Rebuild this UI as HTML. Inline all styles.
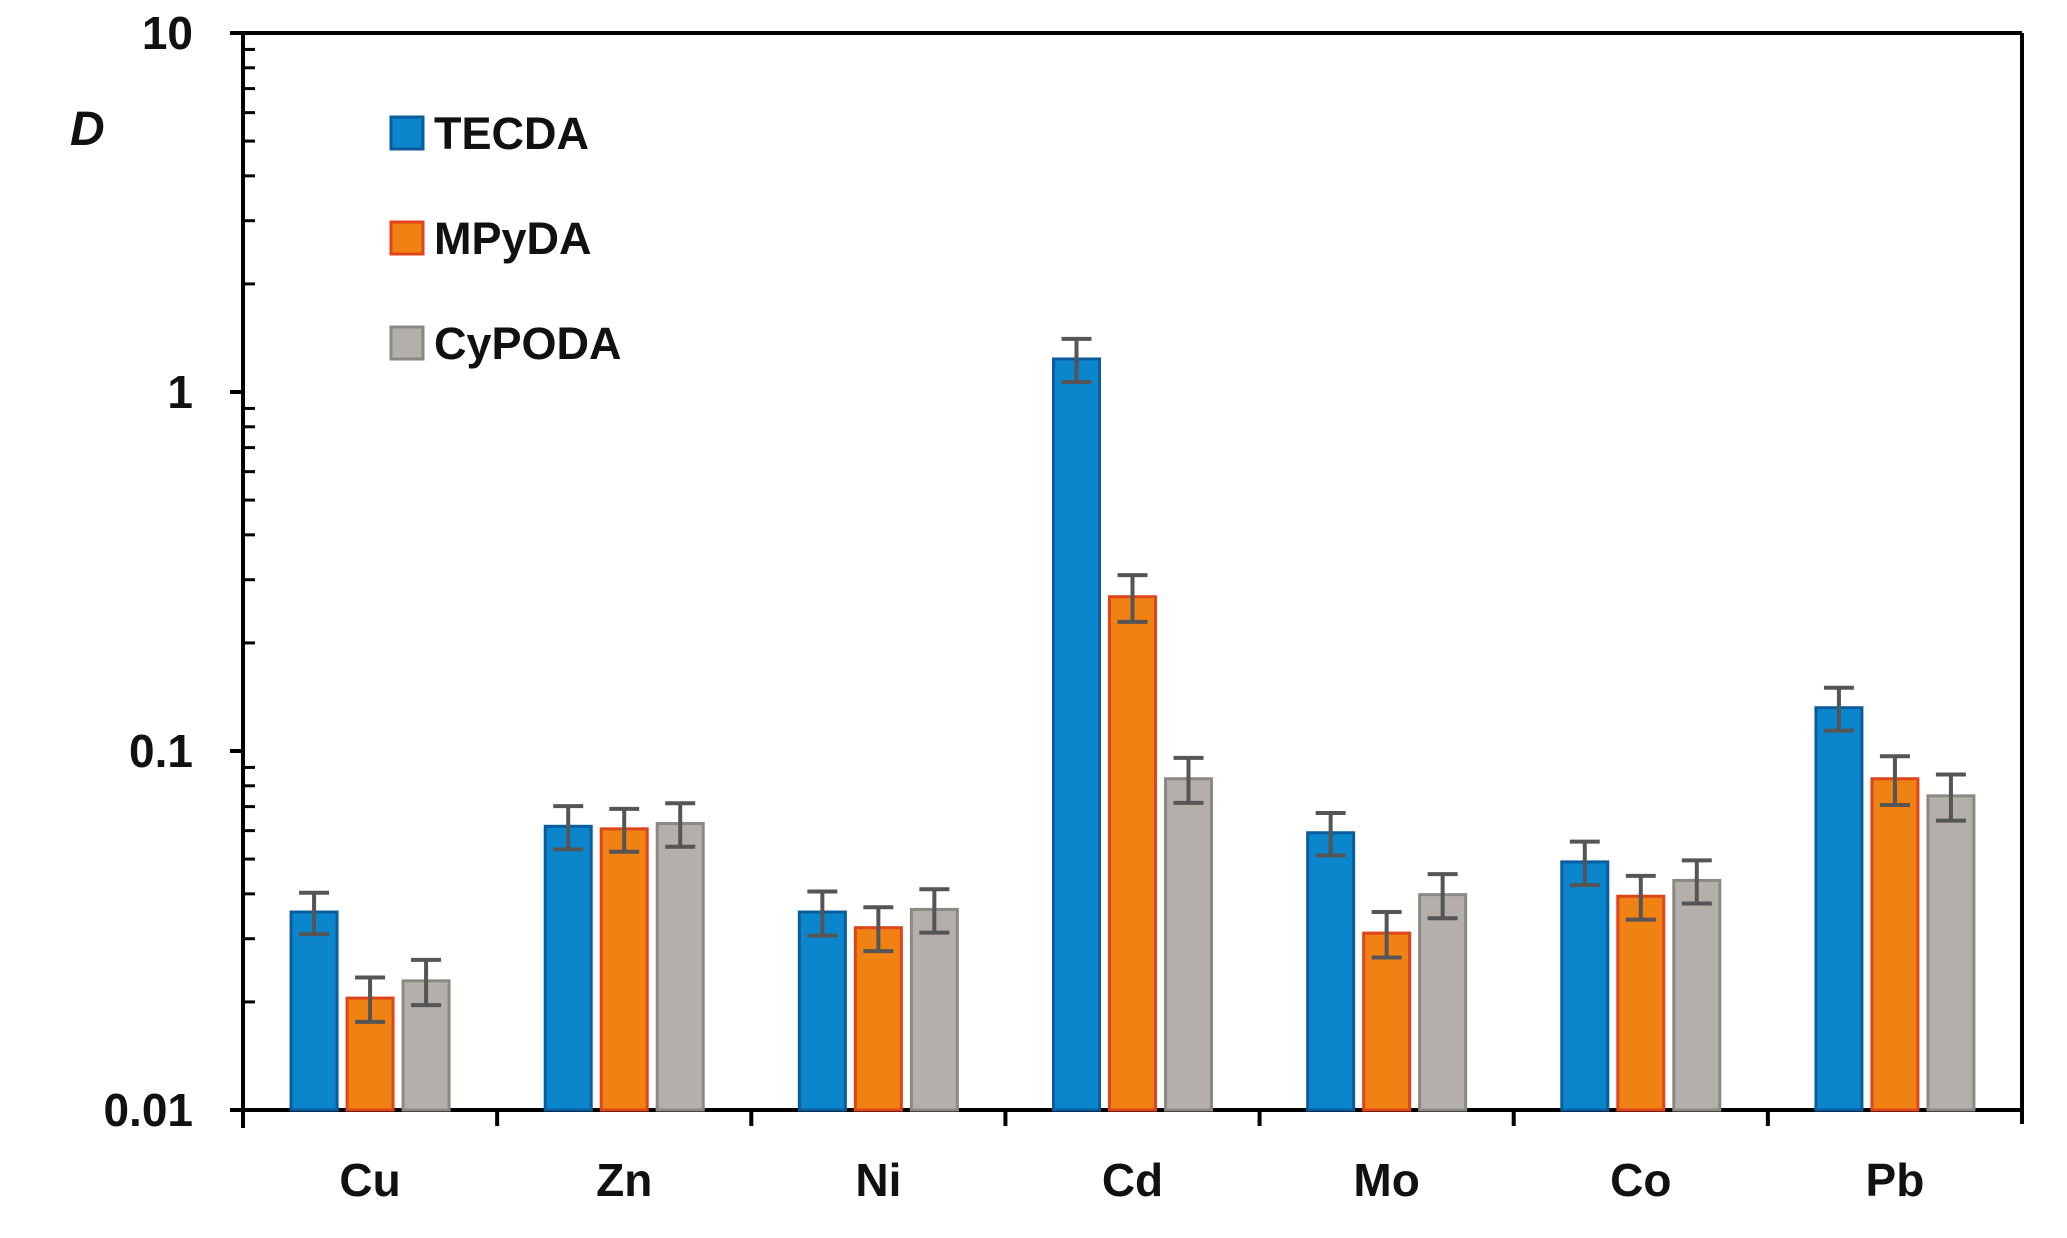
<!DOCTYPE html>
<html><head><meta charset="utf-8"><style>
html,body{margin:0;padding:0;background:#fff;}
svg{display:block;font-family:"Liberation Sans",sans-serif;}
</style></head><body>
<svg id="chart" width="2067" height="1238" viewBox="0 0 2067 1238" xmlns="http://www.w3.org/2000/svg">
<g id="axes"></g>
<g id="bars"></g>
<g id="legend"></g>
</svg>
<script>
const categories = ["Cu","Zn","Ni","Cd","Mo","Co","Pb"];
const seriesNames = ["TECDA","MPyDA","CyPODA"];
const tecda = [0.0356,0.0617,0.0356,1.236,0.0592,0.0491,0.132];
const mpyda = [0.0205,0.0607,0.0322,0.269,0.0311,0.0394,0.0837];
const cypoda = [0.0229,0.0628,0.0362,0.0837,0.0398,0.0436,0.075];
const tecdaErr = [0.0047,0.0085,0.0050,0.17,0.0080,0.0068,0.018];
const mpydaErr = [0.0029,0.0083,0.0045,0.040,0.0045,0.0055,0.013];
const cypodaErr = [0.0033,0.0087,0.0050,0.012,0.0056,0.0060,0.011];
const yTicks = [0.01,0.1,1,10];
const yTickLabels = ["0.01","0.1","1","10"];

const NS="http://www.w3.org/2000/svg";
const L=243,R=2022,T=33,B=1110;
function y(v){return B-(Math.log10(v)+2)/3*(B-T);}
const gw=(R-L)/categories.length;
function xc(i){return L+gw*(i+0.5);}
function mk(tag,attrs,parent,txt){const e=document.createElementNS(NS,tag);for(const k in attrs)e.setAttribute(k,attrs[k]);if(txt!==undefined)e.textContent=txt;parent.appendChild(e);return e;}
const axes=document.getElementById('axes'),bars=document.getElementById('bars'),legend=document.getElementById('legend');

let e;
e=mk('line',{x1:L,y1:T,x2:R,y2:T,stroke:'#000','stroke-width':4},axes);


e=mk('line',{x1:R,y1:T,x2:R,y2:B+14,stroke:'#000','stroke-width':4},axes);


e=mk('line',{x1:L,y1:T-2,x2:L,y2:B+18,stroke:'#000','stroke-width':4},axes);


e=mk('line',{x1:L-12,y1:B,x2:R,y2:B,stroke:'#000','stroke-width':4},axes);



yTicks.forEach((v,i)=>{
  const yy=y(v);
  const t=mk('line',{x1:L-13,y1:yy,x2:L,y2:yy,stroke:'#000','stroke-width':4},axes);
  
  
  const lb=mk('text',{x:193,y:yy+16,'text-anchor':'end','font-size':46,'font-weight':'bold',fill:'#111'},axes,yTickLabels[i]);
  
  
  if(i<yTicks.length-1){
    for(let m=2;m<=9;m++){
      const ym=y(v*m);
      const mt=mk('line',{x1:L,y1:ym,x2:L+12,y2:ym,stroke:'#000','stroke-width':3},axes);
      
      
    }
  }
});
for(let i=1;i<categories.length;i++){
  const xx=L+gw*i;
  const t=mk('line',{x1:xx,y1:B,x2:xx,y2:B+16,stroke:'#000','stroke-width':4},axes);
  
  
}
categories.forEach((c,i)=>{
  const t=mk('text',{x:xc(i),y:1196,'text-anchor':'middle','font-size':46,'font-weight':'bold',fill:'#111'},axes,c);
  
  
});
e=mk('text',{x:70,y:145,'font-size':48,'font-weight':'bold','font-style':'italic',fill:'#111'},axes,'D');



const series=[tecda,mpyda,cypoda];
const errs=[tecdaErr,mpydaErr,cypodaErr];
const fills=['#0b86cc','#f08214','#b3afaa'];
const strokes=['#0a5c9c','#e0441a','#8c8883'];
const bw=46,step=56;
series.forEach((s,si)=>{
  s.forEach((v,i)=>{
    const cx=xc(i)+(si-1)*step;
    const yt=y(v);
    const r=mk('rect',{x:cx-bw/2,y:yt,width:bw,height:B-yt,fill:fills[si],stroke:strokes[si],'stroke-width':3},bars);
    
    
    const hi=y(v+errs[si][i]),lo=y(v-errs[si][i]);
    const g=mk('g',{stroke:'#555','stroke-width':4},bars);
    
    
    mk('line',{x1:cx,y1:hi,x2:cx,y2:lo},g);
    mk('line',{x1:cx-15,y1:hi,x2:cx+15,y2:hi},g);
    mk('line',{x1:cx-15,y1:lo,x2:cx+15,y2:lo},g);
  });
});

const legY=[117,222,327];
seriesNames.forEach((n,i)=>{
  const g=mk('g',{},legend);
  
  
  mk('rect',{x:391,y:legY[i],width:32,height:32,fill:fills[i],stroke:strokes[i],'stroke-width':3},g);
  mk('text',{x:434,y:legY[i]+32,'font-size':45,'font-weight':'bold',fill:'#111'},g,n);
});
</script>
</body></html>
